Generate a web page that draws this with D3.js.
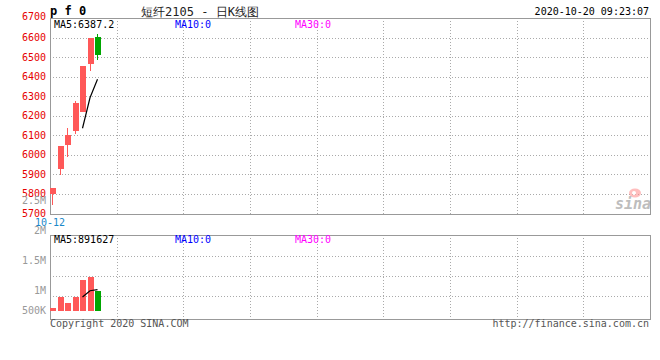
<!DOCTYPE html>
<html>
<head>
<meta charset="utf-8">
<script src="https://cdn.jsdelivr.net/npm/d3@7/dist/d3.min.js"></script>
<style>
  html, body { margin: 0; padding: 0; background: #fff; }
  svg { display: block; }
  text { font-family: "DejaVu Sans Mono", monospace; }
</style>
</head>
<body>
<svg id="chart" width="660" height="360"></svg>
<script>
// ---- data ----
const dates  = ["10-12", "10-13", "10-14", "10-15", "10-16", "10-19", "10-20"];
const open   = [5798, 5929, 6050, 6124, 6221, 6463, 6601];
const close  = [5832, 6047, 6103, 6265, 6454, 6599, 6512];
const high   = [5832, 6047, 6136, 6274, 6454, 6599, 6618];
const low    = [5743, 5897, 5991, 6107, 6221, 6430, 6485];
const volume = [125000, 583000, 333000, 583000, 1308000, 1417000, 821000];
const priceMA5Idx = [4, 5, 6];
const priceMA5 = [6136, 6292, 6387.2];
const volMA5 = [586000, 845000, 891627];
const priceTicks = [5700, 5800, 5900, 6000, 6100, 6200, 6300, 6400, 6500, 6600, 6700];
const volTickLabels = ["2.5M", "2M", "1.5M", "1M", "500K"];
const volTickValues = [2500000, 2000000, 1500000, 1000000, 500000];
const volGridSteps = [1, 2, 3];
const title = "短纤2105 - 日K线图";
const stamp = "2020-10-20 09:23:07";
const symbol = "p f 0";

// ---- layout ----
const svg = d3.select("#chart");
const L = 50, R = 649.5;
const mainTop = 18, mainBot = 213.5;
const volTop = 234.5, volBot = 318.5;
const slots = 80;
const RED = "#ff5858", GREEN = "#00a600";
const GRID = "#aaaaaa", BORDER = "#999999";

const x = d3.scaleLinear().domain([0, slots]).range([50, 650]);
const yP = d3.scaleLinear().domain([5700, 6700]).range([mainBot, mainTop]);
const yV = d3.scaleLinear().domain([0, 3000000]).range([311, 239]);
const yVGrid = d3.scaleLinear().domain([0, 4]).range([315.5, 235.5]);
const yVLab = d3.scaleLinear().domain([1000000, 2500000]).range([290.7, 200.7]);
const gridX = d3.range(1, 9).map(k => L + k * 600 / 9);

const px = v => Math.round(v) + 0.5;

// ---- grids ----
const g = svg.append("g").attr("shape-rendering", "crispEdges");
// main horizontal grid
g.selectAll(".hg").data(priceTicks.filter(t => t > 5700 && t < 6700)).enter()
  .append("line")
  .attr("x1", L).attr("x2", R)
  .attr("y1", d => px(yP(d))).attr("y2", d => px(yP(d)))
  .attr("stroke", GRID).attr("stroke-dasharray", "1,2");
// main vertical grid
g.selectAll(".vg").data(gridX).enter().append("line")
  .attr("x1", d => px(d)).attr("x2", d => px(d))
  .attr("y1", mainTop).attr("y2", mainBot)
  .attr("stroke", GRID).attr("stroke-dasharray", "1,2");
// volume horizontal grid
g.selectAll(".vhg").data(volGridSteps).enter().append("line")
  .attr("x1", L).attr("x2", R)
  .attr("y1", d => px(yVGrid(d))).attr("y2", d => px(yVGrid(d)))
  .attr("stroke", GRID).attr("stroke-dasharray", "1,2");
g.selectAll(".vvg").data(gridX).enter().append("line")
  .attr("x1", d => px(d)).attr("x2", d => px(d))
  .attr("y1", volTop).attr("y2", volBot + 3)
  .attr("stroke", GRID).attr("stroke-dasharray", "1,2");

// borders
[[mainTop, mainBot], [volTop, volBot]].forEach(([t, b]) => {
  g.append("rect").attr("x", px(L)).attr("y", px(t))
    .attr("width", Math.round(R - L)).attr("height", Math.round(b - t))
    .attr("fill", "none").attr("stroke", BORDER);
});

// ---- price axis labels ----
svg.selectAll(".pl").data(priceTicks).enter().append("text")
  .attr("x", 46).attr("y", d => yP(d) + (d === 6700 ? 1.5 : 3.5))
  .attr("text-anchor", "end").attr("font-size", 10).attr("fill", "#e60000")
  .text(d => d);

// ---- volume axis labels ----
svg.selectAll(".vl").data(volTickValues).enter().append("text")
  .attr("x", 46).attr("y", d => Math.min(yVLab(d), 310.7) + 3.5)
  .attr("text-anchor", "end").attr("font-size", 10).attr("fill", "#999")
  .text((d, i) => volTickLabels[i]);

// ---- candles ----
const cg = svg.append("g").attr("shape-rendering", "crispEdges");
const idx = d3.range(dates.length);
const col = i => close[i] >= open[i] ? RED : GREEN;
cg.selectAll(".wick").data(idx).enter().append("rect")
  .attr("x", i => Math.round(x(i)) + 2).attr("width", 1)
  .attr("y", i => yP(high[i])).attr("height", i => yP(low[i]) - yP(high[i]))
  .attr("fill", col);
cg.selectAll(".body").data(idx).enter().append("rect")
  .attr("x", i => Math.round(x(i))).attr("width", 6)
  .attr("y", i => yP(Math.max(open[i], close[i])))
  .attr("height", i => Math.max(1, Math.abs(yP(open[i]) - yP(close[i]))))
  .attr("fill", col);

// price MA5
svg.append("path")
  .datum(priceMA5Idx.map((k, j) => [k, priceMA5[j]]))
  .attr("d", d3.line().x(d => x(d[0]) + 2.5).y(d => yP(d[1])))
  .attr("fill", "none").attr("stroke", "#000").attr("stroke-width", 1.2);

// ---- volume bars ----
cg.selectAll(".vb").data(idx).enter().append("rect")
  .attr("x", i => Math.round(x(i))).attr("width", 6)
  .attr("y", i => yV(volume[i])).attr("height", i => yV(0) - yV(volume[i]))
  .attr("fill", col);
svg.append("path")
  .datum(priceMA5Idx.map((k, j) => [k, volMA5[j]]))
  .attr("d", d3.line().x(d => x(d[0]) + 2.5).y(d => yV(d[1])))
  .attr("fill", "none").attr("stroke", "#000").attr("stroke-width", 1.2);

// ---- texts ----
svg.append("text").attr("x", 50).attr("y", 15).attr("font-size", 12)
  .attr("font-weight", "bold").attr("font-family", "DejaVu Serif, serif")
  .attr("letter-spacing", 0).text(symbol);
svg.append("text").attr("x", 200).attr("y", 15.5).attr("text-anchor", "middle")
  .attr("font-size", 12).attr("font-family", "Noto Sans CJK SC, sans-serif")
  .attr("fill", "#222").text(title);
svg.append("text").attr("x", 649).attr("y", 15).attr("text-anchor", "end")
  .attr("font-size", 10).attr("fill", "#000").text(stamp);

const maLabels = [
  { t: "MA5:6387.2", x: 54, c: "#000" },
  { t: "MA10:0", x: 175, c: "#0000ff" },
  { t: "MA30:0", x: 295, c: "#ff00ff" }
];
svg.selectAll(".ma").data(maLabels).enter().append("text")
  .attr("x", d => d.x).attr("y", 27.5).attr("font-size", 10)
  .attr("fill", d => d.c).text(d => d.t);
const volLabels = [
  { t: "MA5:891627", x: 54, c: "#000" },
  { t: "MA10:0", x: 175, c: "#0000ff" },
  { t: "MA30:0", x: 295, c: "#ff00ff" }
];
svg.selectAll(".vma").data(volLabels).enter().append("text")
  .attr("x", d => d.x).attr("y", 242.5).attr("font-size", 10)
  .attr("fill", d => d.c).text(d => d.t);

svg.append("text").attr("x", x(0)).attr("y", 225.5).attr("text-anchor", "middle")
  .attr("font-size", 10).attr("fill", "#1a88c9").text(dates[0]);

svg.append("text").attr("x", 50).attr("y", 327).attr("font-size", 10)
  .attr("fill", "#555").text("Copyright 2020 SINA.COM");
svg.append("text").attr("x", 649).attr("y", 327).attr("text-anchor", "end")
  .attr("font-size", 10).attr("fill", "#555").text("http://finance.sina.com.cn");

// sina watermark
const wm = svg.append("g").attr("opacity", 0.55);
wm.append("ellipse").attr("cx", 635).attr("cy", 193).attr("rx", 6).attr("ry", 4.5)
  .attr("fill", "#ff8a8a");
wm.append("circle").attr("cx", 634).attr("cy", 193).attr("r", 2).attr("fill", "#fff");
wm.append("text").attr("x", 633).attr("y", 209).attr("text-anchor", "middle")
  .attr("font-size", 15).attr("font-style", "italic").attr("font-weight", "bold")
  .attr("font-family", "DejaVu Sans, sans-serif").attr("fill", "#888").text("sina");
</script>
</body>
</html>
